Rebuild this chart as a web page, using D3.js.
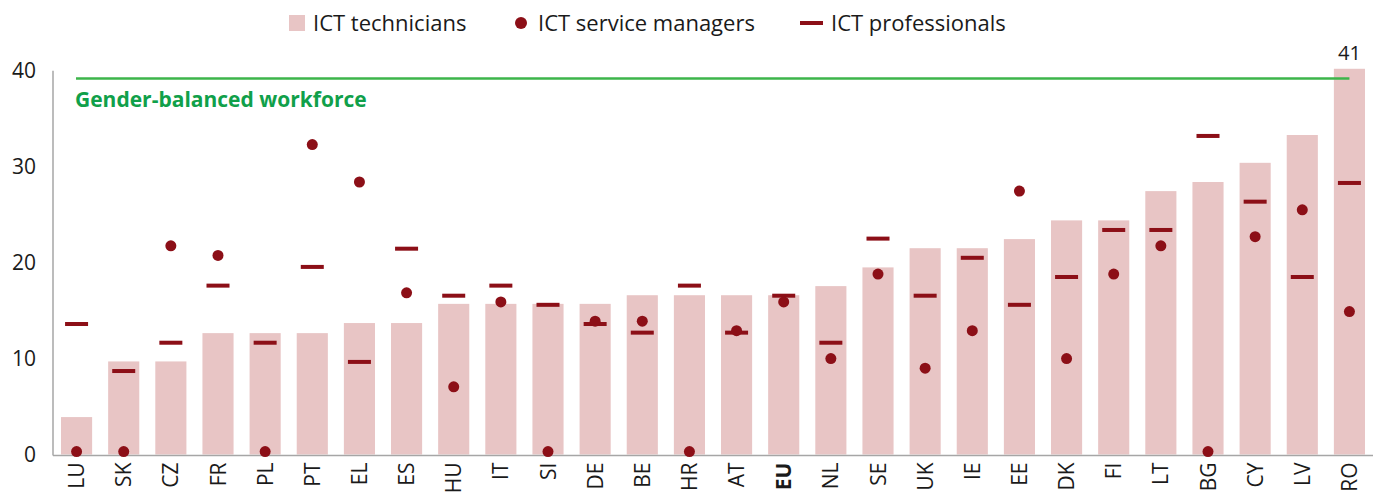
<html>
<head>
<meta charset="utf-8">
<script src="https://cdnjs.cloudflare.com/ajax/libs/d3/7.8.5/d3.min.js"></script>
<style>
  body { margin: 0; background: #fff; }
  text { font-family: "Open Sans", sans-serif; fill: #1a1a1a; }
</style>
</head>
<body>
<div id="chart"></div>
<script>
// Countries, sorted by share of women among ICT technicians
var countries = ["LU","SK","CZ","FR","PL","PT","EL","ES","HU","IT","SI","DE","BE","HR","AT",
                 "EU","NL","SE","UK","IE","EE","DK","FI","LT","BG","CY","LV","RO"];
var technicians = [3.9,9.7,9.7,12.65,12.65,12.65,13.7,13.7,15.7,15.7,15.7,15.7,16.6,16.6,16.6,
                   16.6,17.55,19.5,21.5,21.5,22.45,24.4,24.4,27.45,28.4,30.4,33.3,41];
var managers = [0.3,0.3,21.75,20.75,0.3,32.3,28.4,16.85,7.05,15.9,0.3,13.9,13.9,0.3,12.9,
                15.9,10.0,18.8,9.0,12.9,27.45,10.0,18.8,21.75,0.3,22.7,25.5,14.9];
var professionals = [13.6,8.7,11.65,17.6,11.65,19.55,9.65,21.45,16.55,17.6,15.6,13.6,12.7,17.6,12.7,
                     16.55,11.65,22.5,16.55,20.5,15.6,18.5,23.4,23.4,33.2,26.35,18.5,28.3];
var yTicks = [0, 10, 20, 30, 40];
var balanced = 39.2;

var W = 1379, H = 495;
var mLeft = 53, mRight = 1373, mTop = 70.7, mBottom = 454.5;
var pink = "#e8c5c5", dark = "#8c0f17", green = "#3cb54a";

var svg = d3.select("#chart").append("svg").attr("width", W).attr("height", H);

var x = d3.scaleBand().domain(countries).range([mLeft, mRight]).paddingInner(0.34).paddingOuter(0.17);
var y = d3.scaleLinear().domain([0, 40]).range([mBottom, mTop]);

// bars (RO is cut at the top of the axis, value printed above)
svg.selectAll("rect.bar").data(countries).enter().append("rect")
  .attr("class", "bar")
  .attr("x", function (d) { return x(d); })
  .attr("width", x.bandwidth())
  .attr("y", function (d, i) { return y(Math.min(technicians[i], 40.2)); })
  .attr("height", function (d, i) { return y(0) - y(Math.min(technicians[i], 40.2)); })
  .attr("fill", pink);

svg.append("text")
  .attr("x", x("RO") + x.bandwidth() / 2)
  .attr("y", y(40.2) - 9)
  .attr("text-anchor", "middle")
  .style("font-size", "20px")
  .text(technicians[technicians.length - 1]);

// gender balanced line
svg.append("line")
  .attr("x1", x("LU") + 15).attr("x2", x("RO") + x.bandwidth() / 2)
  .attr("y1", y(balanced)).attr("y2", y(balanced))
  .attr("stroke", green).attr("stroke-width", 2.5);
svg.append("text")
  .attr("x", x("LU") + 14).attr("y", y(balanced) + 29)
  .style("font-size", "21px").style("font-weight", "bold")
  .style("fill", "#10a04a")
  .text("Gender-balanced workforce");

// axes
svg.append("line").attr("x1", mLeft).attr("x2", mLeft).attr("y1", mTop).attr("y2", y(0) + 1)
  .attr("stroke", "#a6a6a6").attr("stroke-width", 1.5);
svg.append("line").attr("x1", mLeft).attr("x2", mRight).attr("y1", y(0) + 1).attr("y2", y(0) + 1)
  .attr("stroke", "#a6a6a6").attr("stroke-width", 1.5);

svg.selectAll("text.ytick").data(yTicks).enter().append("text")
  .attr("class", "ytick")
  .attr("x", 36).attr("y", function (d) { return y(d); })
  .attr("dy", "0.36em")
  .attr("text-anchor", "end")
  .style("font-size", "21px")
  .text(function (d) { return d; });

svg.selectAll("text.xtick").data(countries).enter().append("text")
  .attr("class", "xtick")
  .attr("transform", function (d) {
    return "translate(" + (x(d) + x.bandwidth() / 2) + "," + (y(0) + 8) + ") rotate(-90)";
  })
  .attr("dy", "0.36em")
  .attr("text-anchor", "end")
  .style("font-size", "21px")
  .style("font-weight", function (d) { return d === "EU" ? "bold" : "normal"; })
  .text(function (d) { return d; });

// professionals: short dashes
svg.selectAll("rect.prof").data(countries).enter().append("rect")
  .attr("class", "prof")
  .attr("x", function (d) { return x(d) + x.bandwidth() / 2 - 11.5; })
  .attr("width", 23)
  .attr("y", function (d, i) { return y(professionals[i]) - 2; })
  .attr("height", 4)
  .attr("fill", dark);

// service managers: dots
svg.selectAll("circle.mgr").data(countries).enter().append("circle")
  .attr("class", "mgr")
  .attr("cx", function (d) { return x(d) + x.bandwidth() / 2; })
  .attr("cy", function (d, i) { return y(managers[i]); })
  .attr("r", 5.5)
  .attr("fill", dark);

// legend
var legend = svg.append("g");
legend.append("rect").attr("x", 289).attr("y", 15).attr("width", 16).attr("height", 16).attr("fill", pink);
legend.append("text").attr("x", 313).attr("y", 23).attr("dy", "0.36em").style("font-size", "22px").text("ICT technicians");
legend.append("circle").attr("cx", 521).attr("cy", 23).attr("r", 6).attr("fill", dark);
legend.append("text").attr("x", 538).attr("y", 23).attr("dy", "0.36em").style("font-size", "22px").text("ICT service managers");
legend.append("rect").attr("x", 800).attr("y", 21).attr("width", 23).attr("height", 4).attr("fill", dark);
legend.append("text").attr("x", 831).attr("y", 23).attr("dy", "0.36em").style("font-size", "22px").text("ICT professionals");
</script>
</body>
</html>
